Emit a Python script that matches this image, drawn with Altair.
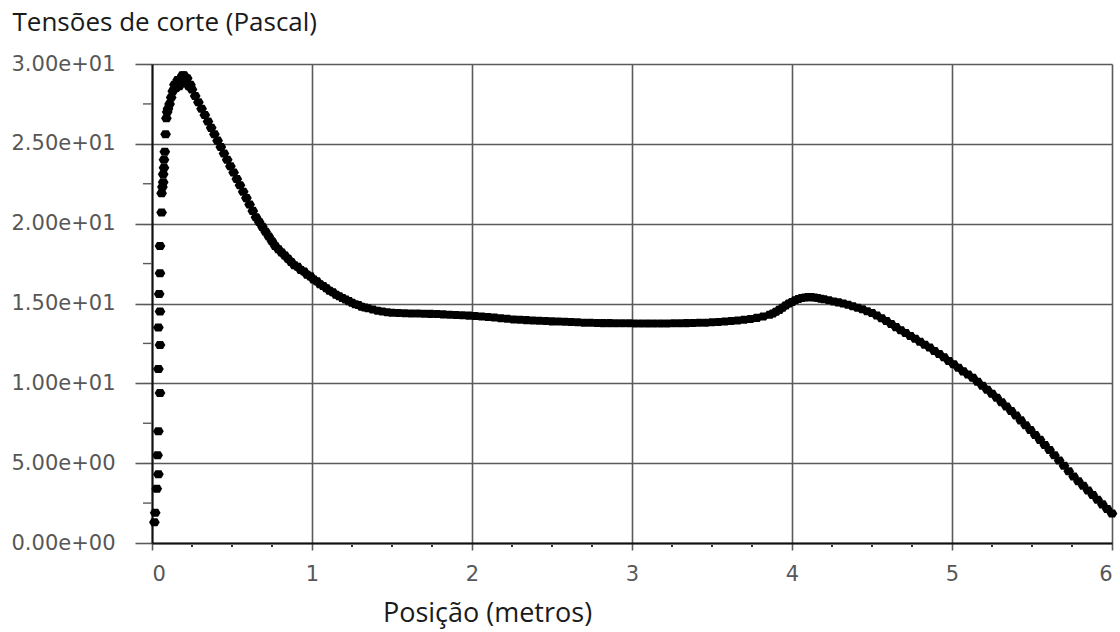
import json
import altair as alt
import pandas as pd

# Shear stress along the wall (Pascal) against position (metres)
pos_wall = [0.015, 0.02, 0.03, 0.04, 0.035, 0.04, 0.05, 0.04, 0.05, 0.04, 0.05, 0.045, 0.05, 0.05,
            0.06, 0.06, 0.065, 0.07, 0.07, 0.075, 0.075, 0.08, 0.085, 0.09, 0.095, 0.10, 0.11, 0.12,
            0.13, 0.14, 0.15, 0.16, 0.17, 0.18, 0.19, 0.20, 0.21, 0.22, 0.23, 0.24]
tau_wall = [1.3, 1.9, 3.4, 4.3, 5.5, 7.0, 9.4, 10.9, 12.4, 13.5, 14.5, 15.6, 16.9, 18.6,
            20.7, 21.9, 22.3, 22.6, 23.1, 23.5, 24.0, 24.5, 25.6, 26.6, 27.0, 27.2, 27.5, 27.9,
            28.3, 28.7, 28.5, 29.0, 28.6, 29.1, 29.3, 29.3, 28.9, 29.1, 28.6, 28.7]

pos_drop = [0.25, 0.27, 0.29, 0.31, 0.33, 0.35, 0.37, 0.39, 0.41, 0.43, 0.45, 0.47, 0.49, 0.51,
            0.53, 0.55, 0.57, 0.59, 0.61, 0.63, 0.65, 0.67, 0.69, 0.71, 0.73, 0.75, 0.77, 0.79,
            0.81, 0.83, 0.85, 0.87, 0.89, 0.91, 0.93, 0.95, 0.97, 0.99, 1.01, 1.03, 1.05, 1.07,
            1.09, 1.11, 1.13, 1.15, 1.17, 1.19, 1.21, 1.23, 1.25, 1.27, 1.29, 1.31, 1.33, 1.35,
            1.38, 1.41, 1.44, 1.47, 1.50]
tau_drop = [28.4, 28.0, 27.6, 27.2, 26.8, 26.4, 26.0, 25.6, 25.2, 24.8, 24.4, 24.0, 23.6, 23.2,
            22.8, 22.4, 22.0, 21.6, 21.2, 20.8, 20.4, 20.1, 19.8, 19.5, 19.2, 18.9, 18.6, 18.4,
            18.2, 18.0, 17.8, 17.6, 17.4, 17.3, 17.1, 17.0, 16.8, 16.7, 16.5, 16.4, 16.2, 16.1,
            15.95, 15.8, 15.7, 15.55, 15.45, 15.35, 15.25, 15.15, 15.05, 14.95, 14.9, 14.8, 14.75, 14.7,
            14.62, 14.55, 14.5, 14.45, 14.42]

pos_flat = [1.54, 1.58, 1.62, 1.66, 1.70, 1.74, 1.78, 1.82, 1.86, 1.90, 1.94, 1.98, 2.02, 2.06,
            2.10, 2.14, 2.18, 2.22, 2.26, 2.30, 2.34, 2.38, 2.42, 2.46, 2.50, 2.54, 2.58, 2.62,
            2.66, 2.70, 2.74, 2.78, 2.82, 2.86, 2.90, 2.94, 2.98, 3.02, 3.06, 3.10, 3.14, 3.18,
            3.22, 3.26, 3.30, 3.34, 3.38, 3.42, 3.46, 3.50, 3.54, 3.58, 3.62, 3.66, 3.70, 3.74,
            3.78, 3.82, 3.86]
tau_flat = [14.40, 14.39, 14.38, 14.37, 14.36, 14.35, 14.34, 14.32, 14.30, 14.28, 14.26, 14.24, 14.22, 14.19,
            14.16, 14.12, 14.08, 14.04, 14.00, 13.98, 13.96, 13.94, 13.92, 13.90, 13.88, 13.87, 13.86, 13.84,
            13.82, 13.80, 13.79, 13.78, 13.77, 13.77, 13.76, 13.76, 13.76, 13.75, 13.75, 13.75, 13.75, 13.75,
            13.75, 13.76, 13.76, 13.77, 13.78, 13.79, 13.80, 13.82, 13.84, 13.87, 13.90, 13.94, 13.98, 14.03,
            14.10, 14.18, 14.30]

pos_exit = [3.88, 3.90, 3.92, 3.94, 3.96, 3.98, 4.00, 4.02, 4.04, 4.06, 4.08, 4.10, 4.12, 4.14,
            4.16, 4.18, 4.20, 4.23, 4.26, 4.29, 4.32, 4.35, 4.38, 4.41, 4.44, 4.47, 4.50, 4.53,
            4.56, 4.59, 4.62, 4.65, 4.68, 4.71, 4.74, 4.77, 4.80, 4.83, 4.86, 4.89, 4.92, 4.95,
            4.98, 5.01, 5.04, 5.07, 5.10, 5.13, 5.16, 5.19, 5.22, 5.25, 5.28, 5.31, 5.34, 5.37,
            5.40, 5.43, 5.46, 5.49, 5.52, 5.55, 5.58, 5.61, 5.64, 5.67, 5.70, 5.73, 5.76, 5.79,
            5.82, 5.85, 5.88, 5.91, 5.94, 5.97, 6.00]
tau_exit = [14.38, 14.48, 14.60, 14.73, 14.87, 15.00, 15.10, 15.20, 15.28, 15.34, 15.38, 15.40, 15.40, 15.38,
            15.35, 15.30, 15.26, 15.20, 15.13, 15.07, 15.00, 14.92, 14.83, 14.74, 14.64, 14.52, 14.40, 14.25,
            14.08, 13.90, 13.72, 13.52, 13.33, 13.15, 12.97, 12.79, 12.60, 12.42, 12.24, 12.03, 11.84, 11.63,
            11.40, 11.20, 10.97, 10.75, 10.55, 10.35, 10.10, 9.85, 9.60, 9.35, 9.10, 8.82, 8.55, 8.27,
            7.98, 7.68, 7.38, 7.08, 6.77, 6.46, 6.14, 5.82, 5.50, 5.17, 4.84, 4.50, 4.16, 3.87,
            3.58, 3.29, 3.00, 2.71, 2.42, 2.13, 1.85]

x_ticks = [0, 1, 2, 3, 4, 5, 6]
x_minor = [0.25, 0.5, 0.75, 1.25, 1.5, 1.75, 2.25, 2.5, 2.75, 3.25, 3.5, 3.75,
           4.25, 4.5, 4.75, 5.25, 5.5, 5.75]
y_ticks = [0, 5, 10, 15, 20, 25, 30]
y_labels = ["0.00e+00", "5.00e+00", "1.00e+01", "1.50e+01", "2.00e+01", "2.50e+01", "3.00e+01"]
y_minor = [2.5, 7.5, 12.5, 17.5, 22.5, 27.5]

pts = pd.DataFrame({
    "pos": pos_wall + pos_drop + pos_flat + pos_exit,
    "tau": tau_wall + tau_drop + tau_flat + tau_exit,
})

W, H = 960, 479
axis_font = "DejaVu Sans"
label_grey = "#575757"
grid_grey = "#5a5a5a"

x_scale = alt.Scale(domain=[0, 6], nice=False, zero=False)
y_scale = alt.Scale(domain=[0, 30], nice=False)

y_label_expr = json.dumps(y_labels) + "[round(datum.value / 5)]"

x_axis = alt.Axis(
    values=x_ticks, format="d", grid=True, gridColor=grid_grey, gridWidth=1.6,
    domainColor="#111111", domainWidth=2, tickColor=grid_grey, tickWidth=1.6,
    tickSize=7, labelPadding=13, labelFont=axis_font, labelFontSize=21,
    labelColor=label_grey, title="Posição (metros)", titleFont="Open Sans",
    titleFontSize=27, titleFontWeight="normal", titleColor="#1a1a1a",
    titleX=335, titleY=70, titleAlign="center", titleBaseline="middle",
)
y_axis = alt.Axis(
    values=y_ticks, labelExpr=y_label_expr, grid=True, gridColor=grid_grey,
    gridWidth=1.6, domainColor="#111111", domainWidth=2, tickColor=grid_grey,
    tickWidth=1.6, tickSize=17, labelPadding=20, labelFont=axis_font,
    labelFontSize=21, labelColor=label_grey,
    title="Tensões de corte (Pascal)", titleFont="Open Sans", titleFontSize=26,
    titleFontWeight="normal", titleColor="#1a1a1a", titleAngle=0,
    titleAlign="left", titleBaseline="middle", titleX=-140, titleY=-42,
)

# hexagonal marker, wider than tall
marker = "M-1,0L-0.55,-0.75L0.55,-0.75L1,0L0.55,0.75L-0.55,0.75Z"

points = alt.Chart(pts).mark_point(
    shape=marker, filled=True, color="#000000", opacity=1, size=115, strokeWidth=0
).encode(
    x=alt.X("pos:Q", scale=x_scale, axis=x_axis),
    y=alt.Y("tau:Q", scale=y_scale, axis=y_axis),
)

y_minor_ticks = alt.Chart(pd.DataFrame({"pos": [0.0] * len(y_minor), "tau": y_minor})).mark_rule(
    color=grid_grey, strokeWidth=1.4
).encode(
    y=alt.Y("tau:Q", scale=y_scale, axis=y_axis),
    x=alt.value(-9),
    x2=alt.value(0),
)

x_minor_ticks = alt.Chart(pd.DataFrame({"pos": x_minor})).mark_rule(
    color="#333333", strokeWidth=2
).encode(
    x=alt.X("pos:Q", scale=x_scale, axis=x_axis),
    y=alt.value(H + 2),
    y2=alt.value(H + 4),
)

chart = alt.layer(points, y_minor_ticks, x_minor_ticks).properties(
    width=W, height=H,
    autosize=alt.AutoSizeParams(type="none"),
    padding={"left": 152, "top": 64, "right": 8, "bottom": 89},
    background="#ffffff",
).configure_view(stroke=None)

chart.save("out.html", embed_options={"renderer": "svg", "actions": False})
